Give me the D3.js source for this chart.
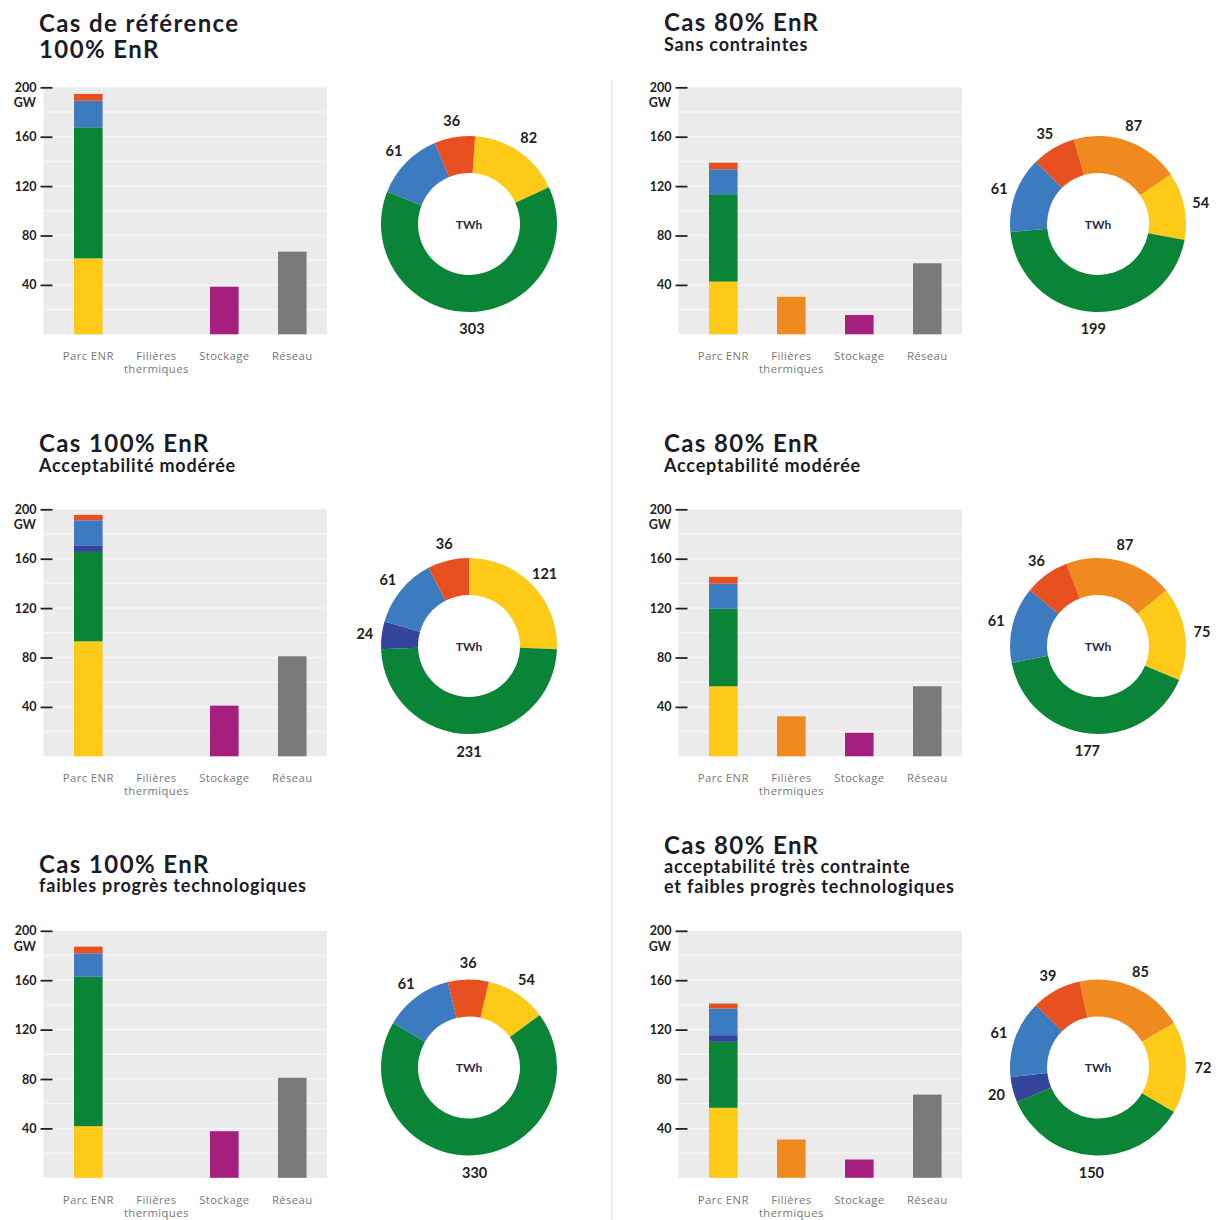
<!DOCTYPE html>
<html><head><meta charset="utf-8">
<script src="https://cdn.jsdelivr.net/npm/d3@7"></script>
<style>
body{margin:0;background:#fff;}
svg{display:block;}
</style></head><body>
<svg id="chart" width="1228" height="1220"></svg>
<script>
// ---------- DATA ----------
const categories = ["Parc ENR", "Filières thermiques", "Stockage", "Réseau"];
const sourceKeys = ["solaire", "eolien", "marines", "hydraulique", "bioenergies", "thermique", "stockage", "reseau"];
const yTicks = [40, 80, 120, 160, 200];
const yUnit = "GW";
const donutUnit = "TWh";

const titleLines = [["Cas de référence", "100% EnR"], ["Cas 80% EnR"], ["Cas 100% EnR"], ["Cas 80% EnR"], ["Cas 100% EnR"], ["Cas 80% EnR"]];
const subtitleLines = [[], ["Sans contraintes"], ["Acceptabilité modérée"], ["Acceptabilité modérée"], ["faibles progrès technologiques"], ["acceptabilité très contrainte", "et faibles progrès technologiques"]];

// Installed capacity (GW) — Parc ENR stack
const gwSolaire     = [61.5, 42.7, 93.1, 56.7, 41.8, 56.7];
const gwEolien      = [106.1, 70.7, 72.4, 62.7, 121, 53.4];
const gwMarines     = [0, 0, 5.3, 0, 0, 5.4];
const gwHydraulique = [21.5, 20.2, 20.3, 20.4, 19, 21.6];
const gwBio         = [5.5, 5.4, 4.4, 5.5, 5.4, 4];
// Other bars (GW)
const gwThermique   = [0, 30.4, 0, 32.4, 0, 31];
const gwStockage    = [38.5, 15.6, 41, 19, 37.7, 14.8];
const gwReseau      = [66.9, 57.5, 81, 56.7, 81, 67.4];

// Annual production (TWh) — donut
const twhThermique   = [0, 87, 0, 87, 0, 85];
const twhSolaire     = [82, 54, 121, 75, 54, 72];
const twhEolien      = [303, 199, 231, 177, 330, 150];
const twhMarines     = [0, 0, 24, 0, 0, 20];
const twhHydraulique = [61, 61, 61, 61, 61, 61];
const twhBio         = [36, 35, 36, 36, 36, 39];

// ---------- STYLE / LAYOUT ----------
const colors = {
  solaire: "#fdca17", eolien: "#0a8538", marines: "#33449b", hydraulique: "#3d7bc0",
  bioenergies: "#e8501f", thermique: "#f08a1e", stockage: "#a61e7e", reseau: "#7a7a7a"
};
const colX = [0, 635, 0, 635, 0, 635];
const rowY = [0, 0, 422, 422, 843.5, 843.5];
const titleX = [39, 664, 39, 664, 39, 664];
const titleBase = [31.5, 31, 452, 452, 872.5, 853.5];
const donutCX = [469, 1098, 469, 1098, 469, 1098];
const donutRot = [4, -16, 0, -21, 13, -12];

const svg = d3.select("#chart");
const FONT = "Lato, 'Open Sans', sans-serif";
const TXT = "#1c1c28";

// separator
svg.append("line").attr("x1", 611.7).attr("x2", 611.7).attr("y1", 80).attr("y2", 1220)
  .attr("stroke", "#e2e2e2").attr("stroke-width", 1.5);

for (let p = 0; p < 6; p++) {
  const g = svg.append("g");
  const cx0 = colX[p], ry = rowY[p];

  // titles
  let y = titleBase[p];
  titleLines[p].forEach((t, i) => {
    if (i > 0) y += 26.7;
    g.append("text").attr("x", titleX[p]).attr("y", y).text(t)
      .attr("font-family", FONT).attr("font-weight", 700).attr("font-size", 24)
      .attr("letter-spacing", 1.4).attr("fill", TXT);
  });
  subtitleLines[p].forEach((t, i) => {
    y += (i === 0 ? 19.7 : 20);
    g.append("text").attr("x", titleX[p]).attr("y", y).text(t)
      .attr("font-family", FONT).attr("font-weight", 700).attr("font-size", 18)
      .attr("letter-spacing", 0.8).attr("fill", TXT);
  });

  // bar chart
  const bgL = cx0 + 43.5, bgR = cx0 + 327;
  const yScale = d3.scaleLinear().domain([0, 200]).range([ry + 334.3, ry + 87.3]);
  const xScale = d3.scaleBand().domain(categories)
    .range([bgL + 10.8, bgL + 282.8]).paddingInner(0.58).paddingOuter(0.29);

  g.append("rect").attr("x", bgL).attr("y", yScale(200)).attr("width", bgR - bgL)
    .attr("height", yScale(0) - yScale(200)).attr("fill", "#ebebeb");
  g.selectAll(".grid").data(d3.range(20, 200, 20)).join("line")
    .attr("x1", bgL).attr("x2", bgR).attr("y1", d => yScale(d)).attr("y2", d => yScale(d))
    .attr("stroke", "#f6f6f6").attr("stroke-width", 1.5);

  const rows = categories.map((c, i) => ({
    cat: c,
    solaire: i === 0 ? gwSolaire[p] : 0,
    eolien: i === 0 ? gwEolien[p] : 0,
    marines: i === 0 ? gwMarines[p] : 0,
    hydraulique: i === 0 ? gwHydraulique[p] : 0,
    bioenergies: i === 0 ? gwBio[p] : 0,
    thermique: i === 1 ? gwThermique[p] : 0,
    stockage: i === 2 ? gwStockage[p] : 0,
    reseau: i === 3 ? gwReseau[p] : 0
  }));
  const stacked = d3.stack().keys(sourceKeys)(rows);
  stacked.forEach(layer => {
    g.append("g").attr("fill", colors[layer.key]).selectAll("rect")
      .data(layer.filter(d => d[1] - d[0] > 0)).join("rect")
      .attr("x", d => xScale(d.data.cat)).attr("width", xScale.bandwidth())
      .attr("y", d => yScale(d[1])).attr("height", d => yScale(d[0]) - yScale(d[1]));
  });

  // y axis
  const axis = d3.axisLeft(yScale).tickValues(yTicks).tickSize(12).tickPadding(4).tickFormat(d3.format("d"));
  const ag = g.append("g").attr("transform", `translate(${cx0 + 52.5},0)`).call(axis);
  ag.select(".domain").remove();
  ag.selectAll(".tick line").attr("stroke", "#222").attr("stroke-width", 1.8);
  ag.selectAll(".tick text").attr("font-family", FONT).attr("font-weight", 700)
    .attr("font-size", 12.5).attr("fill", "#222");
  g.append("text").attr("x", cx0 + 36).attr("y", yScale(200) + 15.5).attr("text-anchor", "end")
    .attr("dominant-baseline", "central").text(yUnit)
    .attr("font-family", FONT).attr("font-weight", 700).attr("font-size", 12.5).attr("fill", "#222");

  // category labels
  categories.forEach(c => {
    const words = c === "Filières thermiques" ? c.split(" ") : [c];
    words.forEach((w, i) => {
      g.append("text").attr("x", xScale(c) + xScale.bandwidth() / 2)
        .attr("y", ry + 360 + i * 13).attr("text-anchor", "middle").text(w)
        .attr("font-family", "'Open Sans', sans-serif").attr("font-size", 11.3)
        .attr("letter-spacing", 0.4).attr("fill", "#777");
    });
  });

  // donut
  const slices = [
    { key: "thermique", v: twhThermique[p] },
    { key: "solaire", v: twhSolaire[p] },
    { key: "eolien", v: twhEolien[p] },
    { key: "marines", v: twhMarines[p] },
    { key: "hydraulique", v: twhHydraulique[p] },
    { key: "bioenergies", v: twhBio[p] }
  ].filter(d => d.v > 0);
  const rot = donutRot[p] * Math.PI / 180;
  const pie = d3.pie().sort(null).value(d => d.v).startAngle(rot).endAngle(rot + 2 * Math.PI);
  const arc = d3.arc().innerRadius(51).outerRadius(88);
  const labelArc = d3.arc().innerRadius(105).outerRadius(105);
  const cy = ry + 224;
  const dg = g.append("g").attr("transform", `translate(${donutCX[p]},${cy})`);
  const arcs = pie(slices);
  dg.selectAll("path").data(arcs).join("path").attr("d", arc).attr("fill", d => colors[d.data.key]);
  dg.selectAll("text.lab").data(arcs).join("text").attr("class", "lab")
    .attr("transform", d => `translate(${labelArc.centroid(d)})`)
    .attr("text-anchor", "middle").attr("dominant-baseline", "central")
    .text(d => d.data.v)
    .attr("font-family", FONT).attr("font-weight", 700).attr("font-size", 14.5).attr("fill", "#222");
  dg.append("text").attr("text-anchor", "middle").attr("dominant-baseline", "central").text(donutUnit)
    .attr("font-family", FONT).attr("font-weight", 700).attr("font-size", 12).attr("fill", "#2a2a4a");
}
</script>
</body></html>
